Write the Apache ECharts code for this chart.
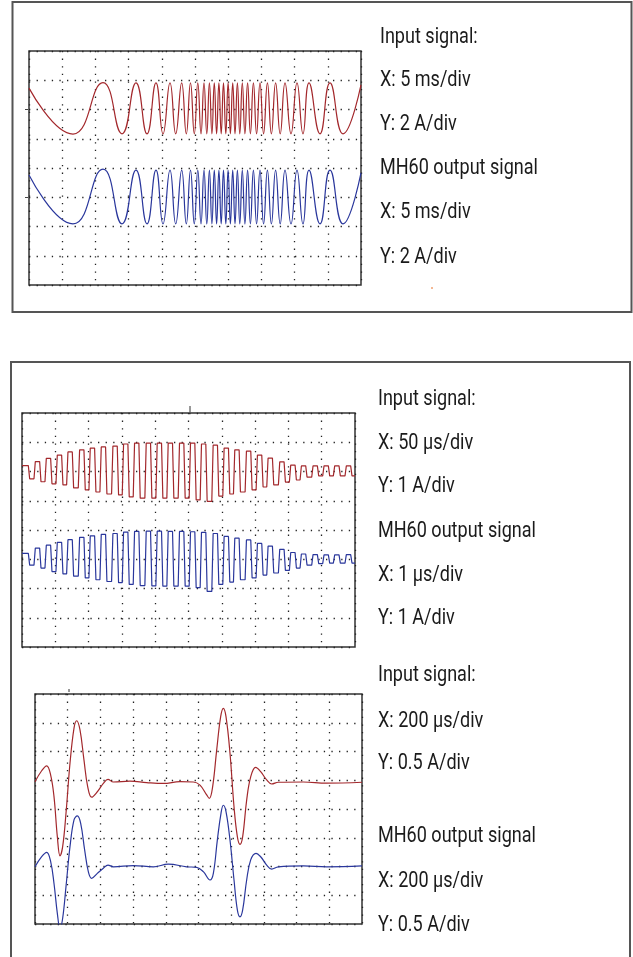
<!DOCTYPE html>
<html>
<head>
<meta charset="utf-8">
<script src="https://cdn.jsdelivr.net/npm/echarts@6/dist/echarts.min.js"></script>
<style>
  html, body { margin: 0; padding: 0; background: #fff; }
  #main { width: 633px; height: 957px; }
</style>
</head>
<body>
<div id="main"></div>
<script>
// all traces are in scope divisions: x 0..10, y -4..4 (0 = screen centre)

// --- screen 1: 5 ms/div swept sine, extrema
const sweepTimes = [0, 1.325, 2.229, 2.801, 3.223, 3.554, 3.825, 4.036, 4.247, 4.419, 4.599,
  4.738, 4.864, 4.979, 5.084, 5.181, 5.271, 5.355, 5.434, 5.509, 5.581, 5.651, 5.720, 5.789,
  5.858, 5.928, 5.997, 6.066, 6.136, 6.205, 6.277, 6.349, 6.425, 6.503, 6.584, 6.669, 6.759,
  6.855, 6.958, 7.066, 7.181, 7.301, 7.428, 7.566, 7.711, 7.892, 8.072, 8.253, 8.434, 8.765,
  9.066, 9.458, 10];
const sweepIn = [2.73, 1.16, 2.92,
  1.17, 2.91, 1.17, 2.91, 1.17, 2.91, 1.17, 2.91, 1.17, 2.91, 1.17, 2.91,
  1.17, 2.91, 1.17, 2.91, 1.17, 2.91, 1.17, 2.91, 1.17, 2.91, 1.17, 2.91,
  1.17, 2.91, 1.17, 2.91, 1.17, 2.91, 1.17, 2.91, 1.17, 2.91, 1.17, 2.91,
  1.17, 2.91, 1.17, 2.91, 1.17, 2.91, 1.17, 2.91, 1.17, 2.91, 1.17, 2.91,
  1.17, 2.84];
const sweepOut = [-0.24, -1.91, -0.04,
  -1.91, -0.07, -1.91, -0.07, -1.91, -0.07, -1.91, -0.07, -1.91, -0.07, -1.91, -0.07,
  -1.91, -0.07, -1.91, -0.07, -1.91, -0.07, -1.91, -0.07, -1.91, -0.07, -1.91, -0.07,
  -1.91, -0.07, -1.91, -0.07, -1.91, -0.07, -1.91, -0.07, -1.91, -0.07, -1.91, -0.07,
  -1.91, -0.07, -1.91, -0.07, -1.91, -0.07, -1.91, -0.07, -1.91, -0.07, -1.91, -0.07,
  -1.91, -0.17];

// --- screen 2: 50 us/div burst, one entry per cycle (rise edge, fall edge, top, bottom)
const burstRise = [0, 0.36, 0.69, 1.02, 1.34, 1.69, 2.01, 2.34, 2.69, 3.01, 3.34, 3.69, 4.02, 4.35,
  4.69, 5.02, 5.35, 5.70, 6.03, 6.35, 6.70, 7.03, 7.35, 7.70, 8.03, 8.35, 8.70, 9.03, 9.35, 9.70];
const burstFall = [0.19, 0.53, 0.86, 1.19, 1.51, 1.86, 2.18, 2.51, 2.86, 3.18, 3.51, 3.86, 4.19, 4.52,
  4.86, 5.19, 5.52, 5.87, 6.20, 6.52, 6.87, 7.20, 7.52, 7.87, 8.20, 8.52, 8.87, 9.20, 9.52, 9.87];
const burstInTop = [2.20, 2.34, 2.45, 2.56, 2.67, 2.74, 2.80, 2.84, 2.87, 2.94, 2.97, 2.97, 2.97, 2.97,
  2.97, 2.97, 2.94, 2.90, 2.80, 2.74, 2.70, 2.56, 2.46, 2.33, 2.22, 2.19, 2.19, 2.19, 2.19, 2.19];
const burstInBot = [1.75, 1.65, 1.58, 1.54, 1.44, 1.37, 1.30, 1.23, 1.20, 1.13, 1.09, 1.09, 1.09, 1.09,
  1.09, 1.03, 0.98, 1.16, 1.23, 1.30, 1.37, 1.47, 1.54, 1.64, 1.71, 1.81, 1.85, 1.85, 1.85, 1.85];
const burstOutTop = [-0.80, -0.62, -0.52, -0.42, -0.33, -0.25, -0.20, -0.15, -0.12, -0.07, -0.05, -0.04,
  -0.04, -0.05, -0.05, -0.06, -0.08, -0.12, -0.22, -0.28, -0.34, -0.46, -0.55, -0.66, -0.77, -0.82,
  -0.84, -0.85, -0.85, -0.84];
const burstOutBot = [-1.20, -1.30, -1.42, -1.50, -1.58, -1.64, -1.70, -1.76, -1.80, -1.86, -1.90, -1.91,
  -1.92, -1.92, -1.92, -1.97, -2.10, -1.86, -1.78, -1.70, -1.64, -1.54, -1.47, -1.38, -1.30, -1.20,
  -1.15, -1.13, -1.13, -1.13];

// --- screen 3: 200 us/div pulse pairs
const pulseInX = [0, 0.204, 0.357, 0.479, 0.581, 0.683, 0.765, 0.846, 0.948, 1.070, 1.193, 1.274, 1.376,
  1.498, 1.611, 1.733, 1.906, 2.090, 2.232, 2.396, 2.905, 3.415, 3.925, 4.434, 4.842, 5.046, 5.250,
  5.331, 5.433, 5.556, 5.678, 5.759, 5.841, 5.963, 6.086, 6.188, 6.269, 6.351, 6.473, 6.596, 6.748,
  6.901, 7.085, 7.238, 7.441, 8.206, 8.920, 10];
const pulseInY = [0.95, 1.33, 1.50, 1.18, 0.43, -0.96, -1.63, -1.31, -0.15, 1.59, 2.81, 3.07, 2.75,
  1.70, 0.78, 0.41, 0.60, 0.89, 1.03, 0.94, 0.97, 0.92, 0.89, 0.95, 0.94, 0.83, 0.49,
  0.37, 0.78, 2.05, 3.21, 3.50, 3.21, 1.94, 0.08, -0.96, -1.23, -0.96, 0.31, 1.12, 1.45,
  1.30, 1.01, 0.87, 0.93, 0.94, 0.90, 0.93];
const pulseOutX = [0, 0.204, 0.357, 0.479, 0.581, 0.683, 0.765, 0.846, 0.948, 1.070, 1.193, 1.295, 1.397,
  1.519, 1.631, 1.733, 1.906, 2.090, 2.232, 2.396, 3.007, 3.619, 4.077, 4.638, 4.944, 5.148, 5.352,
  5.454, 5.576, 5.688, 5.759, 5.841, 5.963, 6.086, 6.188, 6.269, 6.351, 6.473, 6.596, 6.758,
  6.901, 7.085, 7.238, 7.441, 8.206, 8.920, 10];
const pulseOutY = [-2.01, -1.66, -1.51, -1.83, -2.59, -3.63, -4.15, -3.80, -2.70, -1.31, -0.38, -0.24, -0.50,
  -1.43, -2.18, -2.41, -2.24, -2.06, -1.95, -2.01, -1.97, -2.01, -1.92, -2.01, -2.03, -2.18, -2.47,
  -2.24, -1.08, -0.15, 0.13, -0.09, -1.08, -2.47, -3.51, -3.75, -3.51, -2.47, -1.77, -1.54,
  -1.66, -1.95, -2.09, -2.01, -1.98, -2.01, -1.98];

const labels = [
  ['Input signal:', 'X: 5 ms/div', 'Y: 2 A/div', 'MH60 output signal', 'X: 5 ms/div', 'Y: 2 A/div'],
  ['Input signal:', 'X: 50 μs/div', 'Y: 1 A/div', 'MH60 output signal', 'X: 1 μs/div', 'Y: 1 A/div'],
  ['Input signal:', 'X: 200 μs/div', 'Y: 0.5 A/div', 'MH60 output signal', 'X: 200 μs/div', 'Y: 0.5 A/div']
];

const RED = '#a3282c';
const BLUE = '#2a379c';

const zip = (xs, ys) => xs.map((x, i) => [x, ys[i]]);

function squareTrace(top, bot) {
  const e = 0.04;
  const pts = [];
  burstRise.forEach((r, i) => {
    if (i === 0) pts.push([r, top[i]]);
    else pts.push([r, bot[i - 1]], [r + e, top[i]]);
    pts.push([burstFall[i], top[i]], [burstFall[i] + e, bot[i]]);
  });
  pts.push([10, bot[bot.length - 1]]);
  return pts;
}

const screens = [
  { left: 29, top: 51, width: 332, height: 234 },
  { left: 22, top: 413, width: 333, height: 234 },
  { left: 35, top: 694, width: 327, height: 230 }
];

const dots = { color: '#222', width: 1.3, type: [1.3, 6.3] };
const axisBase = {
  type: 'value', axisLine: { show: false }, axisTick: { show: false },
  axisLabel: { show: false }, splitLine: { show: true, lineStyle: dots }
};

const grid = screens.map(s => Object.assign({ show: true, borderColor: '#333', borderWidth: 1.5 }, s));
const xAxis = screens.map((s, i) => Object.assign({ gridIndex: i, min: 0, max: 10, interval: 1 }, axisBase));
const yAxis = screens.map((s, i) => Object.assign({ gridIndex: i, min: -4, max: 4, interval: 1 }, axisBase));

function trace(i, data, color, smooth) {
  return {
    type: 'line', xAxisIndex: i, yAxisIndex: i, data, smooth,
    symbol: 'none', lineStyle: { color, width: 1.2 }, silent: true
  };
}

const series = [
  trace(0, zip(sweepTimes, sweepIn), RED, true),
  trace(0, zip(sweepTimes, sweepOut), BLUE, true),
  trace(1, squareTrace(burstInTop, burstInBot), RED, false),
  trace(1, squareTrace(burstOutTop, burstOutBot), BLUE, false),
  trace(2, zip(pulseInX, pulseInY), RED, 0.4),
  trace(2, zip(pulseOutX, pulseOutY), BLUE, 0.4)
];

// text rows to the right of each screen
const labelX = [380, 378, 378];
const labelY = [
  [37, 80, 124, 168, 212, 257],
  [399, 443, 486, 531, 575, 618],
  [675, 721, 763, 836, 881, 925]
];
const graphic = [
  { type: 'rect', shape: { x: 12.5, y: 2, width: 619, height: 310 },
    style: { fill: 'none', stroke: '#555', lineWidth: 2 } },
  { type: 'rect', shape: { x: 11, y: 362, width: 619, height: 640 },
    style: { fill: 'none', stroke: '#555', lineWidth: 2 } },
  { type: 'line', shape: { x1: 25, y1: 109.5, x2: 28, y2: 109.5 }, style: { stroke: '#444', lineWidth: 1 } },
  { type: 'line', shape: { x1: 25, y1: 197.5, x2: 28, y2: 197.5 }, style: { stroke: '#444', lineWidth: 1 } },
  { type: 'line', shape: { x1: 190, y1: 406, x2: 190, y2: 412 }, style: { stroke: '#333', lineWidth: 1 } },
  { type: 'line', shape: { x1: 69, y1: 689, x2: 69, y2: 692 }, style: { stroke: '#333', lineWidth: 1 } },
  { type: 'circle', shape: { cx: 432, cy: 288, r: 1 }, style: { fill: '#f0a070' } }
];
labels.forEach((rows, p) => rows.forEach((t, k) => {
  graphic.push({
    type: 'text', x: labelX[p], y: labelY[p][k], scaleX: 0.82,
    style: { text: t, font: '22px Roboto', fill: '#1a1a1a', verticalAlign: 'middle' }
  });
}));

const chart = echarts.init(document.getElementById('main'));
chart.setOption({ animation: false, grid, xAxis, yAxis, series, graphic });
</script>
</body>
</html>
